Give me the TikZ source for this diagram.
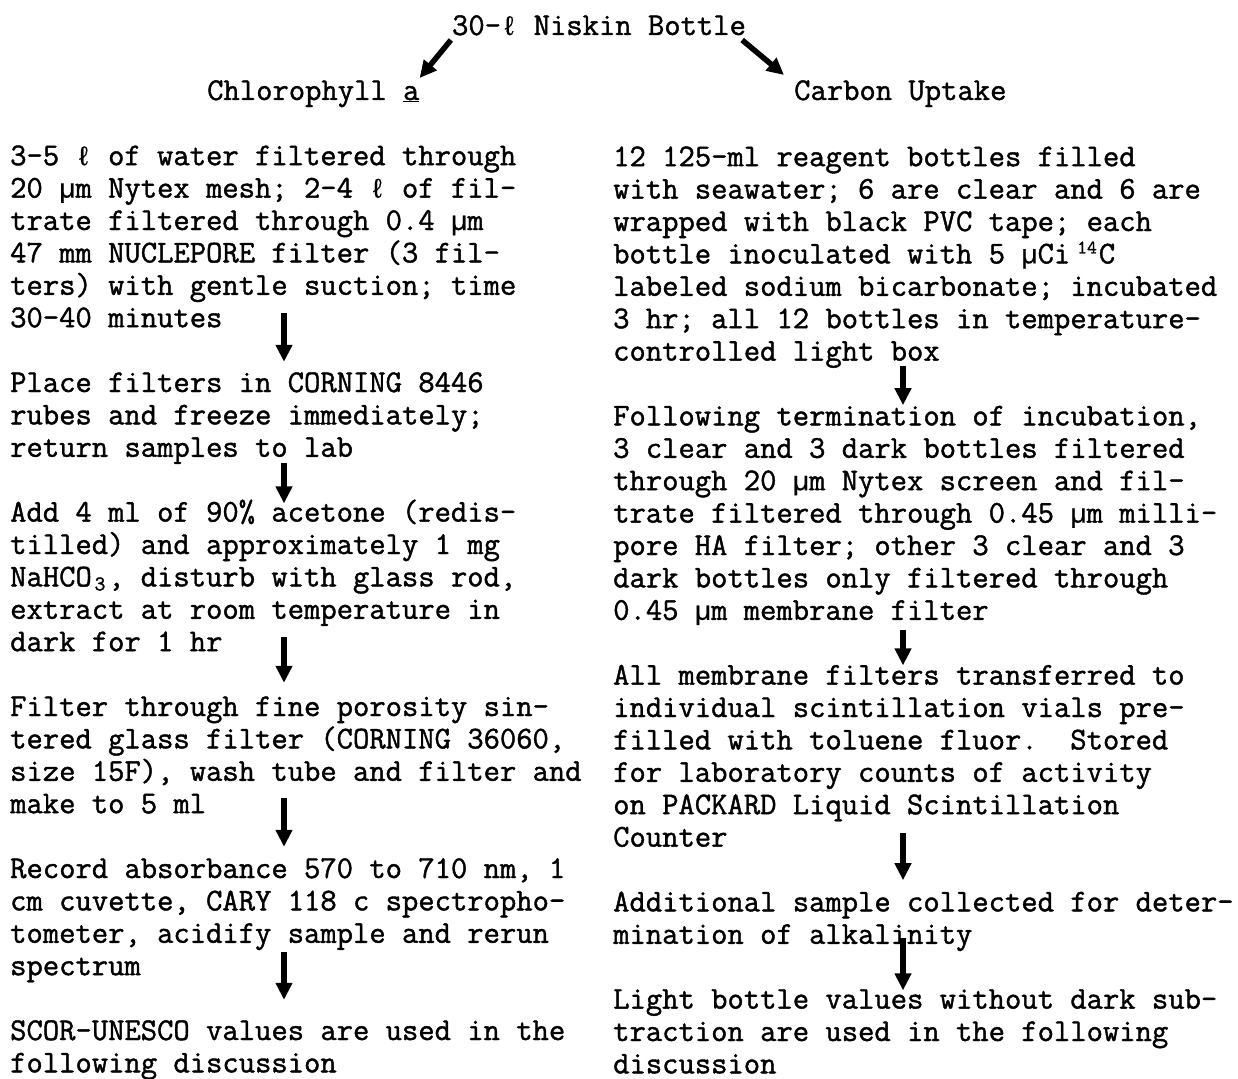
\documentclass[tikz,border=0pt]{standalone}
\usepackage{fontspec}
\usetikzlibrary{arrows.meta,calc}
\newfontfamily\tw[FakeBold=1.3]{Latin Modern Mono}
\newfontfamily\twsym[FakeBold=0.6]{Liberation Mono}
\newlength\cw \setlength\cw{16.3pt}
\newcommand\ellc{\makebox[\cw]{\twsym\fontsize{27}{27}\selectfont ℓ}}
\newcommand\muc{\makebox[\cw]{\twsym\fontsize{27}{27}\selectfont µ}}
\newcommand\subthree{\makebox[\cw][c]{\raisebox{-4pt}{\fontsize{21}{21}\selectfont 3}}}
\newcommand\supfourteen{\hspace{7pt}\raisebox{10pt}{\fontsize{19}{19}\selectfont 14}\hspace{2pt}}
\newcommand\topstrut{\rule{0pt}{24pt}}
\newcommand\botstrut{\rule[-8pt]{0pt}{8pt}}
\tikzset{
  txt/.style={font=\tw\fontsize{31.7}{32.4}\selectfont\frenchspacing, align=left, inner sep=0pt, anchor=north west},
  head/.style={font=\tw\fontsize{31.7}{32.4}\selectfont, inner sep=0pt},
  arr/.style={line width=5.5pt, -{Triangle[width=16pt,length=17pt]}}
}
\begin{document}
\begin{tikzpicture}[x=1pt,y=-1pt]
\useasboundingbox (0,0) rectangle (1238,1078);
\coordinate (lx) at (284,0);
\coordinate (rx) at (903,0);
% headings
\node[head,anchor=base] (title) at (599,35) {30–\ellc{} Niskin Bottle};
\node[head,anchor=base west] (chl) at (207,100) {Chlorophyll \underline{a}};
\node[head,anchor=base west] (carb) at (794,100) {Carbon Uptake};
% left column
\node[txt] (L1) at (10,141) {\topstrut 3–5 \ellc{} of water filtered through\\
20 \muc{}m Nytex mesh; 2-4 \ellc{} of fil-\\
trate filtered through 0.4 \muc{}m\\
47 mm NUCLEPORE filter (3 fil-\\
ters) with gentle suction; time\\
30–40 minutes\botstrut};
\node[txt] (L2) at (10,367.8) {\topstrut Place filters in CORNING 8446\\
rubes and freeze immediately;\\
return samples to lab\botstrut};
\node[txt] (L3) at (10,497.4) {\topstrut Add 4 ml of 90\% acetone (redis-\\
tilled) and approximately 1 mg\\
NaHCO\subthree, disturb with glass rod,\\
extract at room temperature in\\
dark for 1 hr\botstrut};
\node[txt] (L4) at (10,691.8) {\topstrut Filter through fine porosity sin-\\
tered glass filter (CORNING 36060,\\
size 15F), wash tube and filter and\\
make to 5 ml\botstrut};
\node[txt] (L5) at (10,853.8) {\topstrut Record absorbance 570 to 710 nm, 1\\
cm cuvette, CARY 118 c spectropho-\\
tometer, acidify sample and rerun\\
spectrum\botstrut};
\node[txt] (L6) at (10,1015.8) {\topstrut SCOR–UNESCO values are used in the\\
following discussion\botstrut};
% right column
\node[txt] (R1) at (613,142) {\topstrut 12 125–ml reagent bottles filled\\
with seawater; 6 are clear and 6 are\\
wrapped with black PVC tape; each\\
bottle inoculated with 5 \muc{}Ci\supfourteen C\\
labeled sodium bicarbonate; incubated\\
3 hr; all 12 bottles in temperature-\\
controlled light box\botstrut};
\node[txt] (R2) at (613,401.2) {\topstrut Following termination of incubation,\\
3 clear and 3 dark bottles filtered\\
through 20 \muc{}m Nytex screen and fil-\\
trate filtered through 0.45 \muc{}m milli-\\
pore HA filter; other 3 clear and 3\\
dark bottles only filtered through\\
0.45 \muc{}m membrane filter\botstrut};
\node[txt] (R3) at (613,660.4) {\topstrut All membrane filters transferred to\\
individual scintillation vials pre-\\
filled with toluene fluor.\ \ Stored\\
for laboratory counts of activity\\
on PACKARD Liquid Scintillation\\
Counter\botstrut};
\node[txt] (R4) at (613,887.2) {\topstrut Additional sample collected for deter-\\
mination of alkalinity\botstrut};
\node[txt] (R5) at (613,984.4) {\topstrut Light bottle values without dark sub-\\
traction are used in the following\\
discussion\botstrut};
% top arrows
\draw[arr] ($(title.base west)+(-1,5)$) -- ($(chl.base east)+(0,-22)$);
\draw[arr] ($(title.base east)+(-4,5)$) -- ($(carb.base west)+(-10,-25)$);
% left arrows
\draw[arr] ($(L1.south -| lx)+(0,-22)$) -- ($(L2.north -| lx)+(0,-6)$);
\draw[arr] ($(L2.south -| lx)+(0,-2)$) -- ($(L3.north -| lx)+(0,6)$);
\draw[arr] ($(L3.south -| lx)+(0,-22)$) -- ($(L4.north -| lx)+(0,-9)$);
\draw[arr] ($(L4.south -| lx)+(0,-23)$) -- ($(L5.north -| lx)+(0,-7)$);
\draw[arr] ($(L5.south -| lx)+(0,-31)$) -- ($(L6.north -| lx)+(0,-16)$);
% right arrows
\draw[arr] ($(R1.south -| rx)+(0,-3)$) -- ($(R2.north -| rx)+(0,4)$);
\draw[arr] ($(R2.south -| rx)+(0,2)$) -- ($(R3.north -| rx)+(0,5)$);
\draw[arr] ($(R3.south -| rx)+(0,-22)$) -- ($(R4.north -| rx)+(0,-7)$);
\draw[arr] ($(R4.south -| rx)+(0,-14)$) -- ($(R5.north -| rx)+(0,6)$);
\end{tikzpicture}
\end{document}
